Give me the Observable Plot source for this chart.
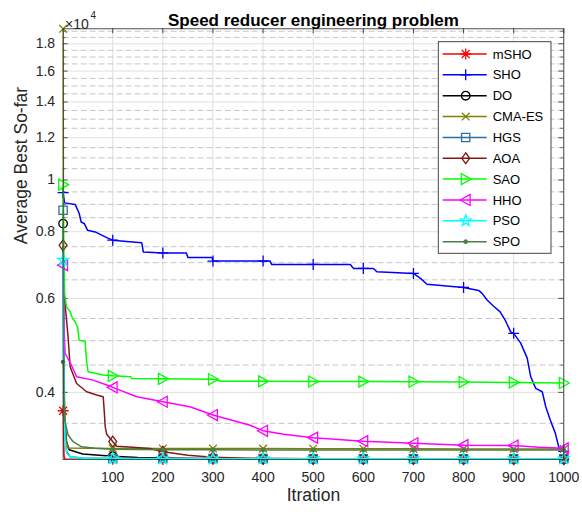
<!DOCTYPE html>
<html><head><meta charset="utf-8">
<script src="https://cdn.jsdelivr.net/npm/d3@7"></script>
<script src="https://cdn.jsdelivr.net/npm/@observablehq/plot@0.6"></script>
<style>
html,body{margin:0;padding:0;background:#fff;}
#chart{width:582px;height:516px;}
</style></head>
<body><div id="chart"></div>
<script>
// ---------- data ----------
const titleText = "Speed reducer engineering problem";
const xLabel = "Itration";
const yLabel = "Average Best So-far";
const names  = ["mSHO","SHO","DO","CMA-ES","HGS","AOA","SAO","HHO","PSO","SPO"];
const colors = ["#ff0000","#0000ff","#000000","#808000","#2a6f9e","#801a1a","#00ff00","#ff00ff","#00ffff","#4a7f4a"];
const symbolNames = ["asterisk","plus","circle","times","square","diamond","right","left","star","dot"];
const xTicks = [100,200,300,400,500,600,700,800,900,1000];
const yMajor = [4000,6000,8000,10000,12000,14000,16000,18000];
const yMinor = [3500,4500,5000,5500,6500,7000,7500,8500,9000,9500,10500,11000,11500,12500,13000,13500,14500,15000,15500,16500,17000,17500,18500,19000];
const markerIters = [1,100,200,300,400,500,600,700,800,900,1000];

const mSHO = [[1,3695],[2,3250],[3,3030],[5,3000],[10,2997],[100,2996],[200,2995.5],[300,2995],[400,2994.9],[500,2994.8],[600,2994.7],[700,2994.6],[800,2994.5],[900,2994.5],[1000,2994.5]];
const SHO = [[1,9470],[4,9060],[25,9000],[33,8664],[37,8343],[43,8290],[50,8049],[65,7993],[88,7797],[100,7713],[128,7670],[158,7625],[161,7333],[200,7300],[247,7300],[250,7160],[298,7160],[300,7047],[400,7047],[414,7047],[417,6946],[500,6946],[574,6946],[578,6873],[581,6827],[600,6827],[620,6827],[627,6729],[700,6683],[714,6541],[727,6378],[800,6290],[830,6210],[837,6130],[847,5957],[860,5801],[873,5661],[883,5465],[894,5193],[900,5160],[914,4947],[927,4637],[934,4278],[944,4069],[957,4010],[964,3759],[973,3550],[983,3355],[990,3160],[1000,3100]];
const DO = [[1,8284],[2,4800],[4,3550],[8,3233],[13,3122],[40,3066],[100,3036],[150,3020],[200,3012],[300,3005],[400,3003],[500,3002],[600,3001],[700,3000],[800,3000],[900,3000],[1000,3000]];
const CMAES = [[1,19200],[2,6000],[4,3600],[7,3250],[11,3145],[100,3141],[200,3140],[300,3139],[400,3138],[500,3137],[600,3136],[700,3135],[800,3134],[900,3133],[1000,3132]];
const HGS = [[1,8778],[2,5200],[3,3900],[5,3300],[8,3100],[15,3030],[40,3012],[100,3008],[200,3007],[300,3006],[400,3006],[500,3005],[600,3005],[700,3005],[800,3005],[900,3005],[1000,3005]];
const AOA = [[1,7545],[3,6200],[5,5850],[11,5070],[15,4467],[28,4156],[48,4010],[68,3955],[81,3925],[83,3700],[85,3450],[88,3338],[100,3235],[108,3171],[140,3155],[175,3138],[200,3095],[250,3050],[300,3022],[400,3006],[500,3003],[600,3002],[700,3001],[800,3000],[900,3000],[1000,3000]];
const SAO = [[1,9800],[2,7500],[4,6100],[8,5785],[15,5661],[20,5500],[25,5424],[30,5300],[33,5011],[45,4980],[48,4564],[51,4372],[81,4310],[100,4295],[136,4278],[138,4245],[200,4240],[300,4232],[307,4230],[314,4197],[400,4195],[500,4192],[600,4190],[700,4188],[800,4182],[900,4175],[1000,4165]];
const HHO = [[1,6925],[3,5200],[5,4730],[15,4550],[28,4278],[61,4217],[88,4128],[100,4087],[148,3925],[200,3841],[254,3759],[300,3627],[374,3470],[400,3389],[441,3338],[500,3290],[600,3240],[700,3211],[800,3185],[900,3180],[950,3155],[1000,3142]];
const PSO = [[1,7077],[2,4600],[3,3700],[5,3250],[8,3080],[15,3030],[40,3010],[100,3006],[200,3005],[300,3005],[400,3004],[500,3004],[600,3004],[700,3004],[800,3004],[900,3004],[1000,3004]];
const SPO = [[1,4560],[2,4100],[4,3550],[11,3328],[21,3233],[38,3162],[65,3142],[100,3130],[200,3123],[300,3121],[400,3120],[500,3119],[600,3119],[700,3118],[800,3118],[900,3118],[1000,3118]];
const seriesList = [mSHO,SHO,DO,CMAES,HGS,AOA,SAO,HHO,PSO,SPO];

// ---------- layout ----------
const W = 582, H = 516;
const mL = 62.6, mR = 18.7, mT = 28.3, mB = 57;
const pw = W - mL - mR, ph = H - mT - mB;
const FONT = "'Liberation Sans', Arial, Helvetica, sans-serif";

// ---------- symbols ----------
function rr(s){ return Math.sqrt(s/Math.PI); }
const symbols = {
  asterisk:{draw(c,s){const r=rr(s),d=r*0.72;c.moveTo(-r,0);c.lineTo(r,0);c.moveTo(0,-r);c.lineTo(0,r);c.moveTo(-d,-d);c.lineTo(d,d);c.moveTo(-d,d);c.lineTo(d,-d);}},
  plus:{draw(c,s){const r=rr(s);c.moveTo(-r,0);c.lineTo(r,0);c.moveTo(0,-r);c.lineTo(0,r);}},
  circle:{draw(c,s){const r=rr(s)*0.78;c.moveTo(r,0);c.arc(0,0,r,0,2*Math.PI);c.closePath();}},
  times:{draw(c,s){const r=rr(s)*0.7;c.moveTo(-r,-r);c.lineTo(r,r);c.moveTo(-r,r);c.lineTo(r,-r);}},
  square:{draw(c,s){const r=rr(s)*0.75;c.rect(-r,-r,2*r,2*r);}},
  diamond:{draw(c,s){const r=rr(s);c.moveTo(0,-r);c.lineTo(r*0.72,0);c.lineTo(0,r);c.lineTo(-r*0.72,0);c.closePath();}},
  right:{draw(c,s){const r=rr(s);c.moveTo(r,0);c.lineTo(-r*0.8,-r);c.lineTo(-r*0.8,r);c.closePath();}},
  left:{draw(c,s){const r=rr(s);c.moveTo(-r,0);c.lineTo(r*0.8,-r);c.lineTo(r*0.8,r);c.closePath();}},
  star:{draw(c,s){const R=rr(s)*1.05,ri=R*0.4;for(let i=0;i<10;i++){const a=-Math.PI/2+i*Math.PI/5,q=i%2?ri:R;const px=q*Math.cos(a),py=q*Math.sin(a);i?c.lineTo(px,py):c.moveTo(px,py);}c.closePath();}},
  dot:{draw(c,s){const r=rr(s)*0.3;c.moveTo(r,0);c.arc(0,0,r,0,2*Math.PI);c.closePath();}}
};
const MR = 5.5;

// ---------- marks ----------
const fmtY = d => String(+(d/1e4).toFixed(2));
const marks = [
  Plot.ruleX(xTicks, {x: d=>d, stroke:"#dfdfdf", strokeWidth:1}),
  Plot.ruleY(yMajor, {y: d=>d, stroke:"#dfdfdf", strokeWidth:1}),
  Plot.ruleY(yMinor, {y: d=>d, stroke:"#c6c6c6", strokeWidth:1, strokeDasharray:"6,3"}),
  // inward ticks
  Plot.tickX(xTicks, {x: d=>d, insetTop: ph-5, stroke:"#262626", strokeWidth:0.8}),
  Plot.tickX(xTicks, {x: d=>d, insetBottom: ph-5, stroke:"#262626", strokeWidth:0.8}),
  Plot.tickY(yMajor, {y: d=>d, insetRight: pw-5, stroke:"#262626", strokeWidth:0.8}),
  Plot.tickY(yMajor, {y: d=>d, insetLeft: pw-5, stroke:"#262626", strokeWidth:0.8}),
  Plot.tickY(yMinor, {y: d=>d, insetRight: pw-3, stroke:"#262626", strokeWidth:0.6}),
  Plot.tickY(yMinor, {y: d=>d, insetLeft: pw-3, stroke:"#262626", strokeWidth:0.6}),
  Plot.axisX({ticks: xTicks, tickSize: 0, tickPadding: 13, fontSize: 14, tickFormat: d=>String(d), label: null}),
  Plot.axisY({ticks: yMajor, tickSize: 0, tickPadding: 8, fontSize: 14, tickFormat: fmtY, label: null}),
];
seriesList.forEach((s, i) => {
  marks.push(Plot.line(s, {x: d=>d[0], y: d=>d[1], stroke: colors[i], strokeWidth: 1.5, clip: true}));
  marks.push(Plot.dot(s.filter(d => markerIters.includes(d[0])), {
    x: d=>d[0], y: d=>d[1], r: MR, symbol: symbols[symbolNames[i]],
    stroke: colors[i], strokeWidth: 1.3, fill: symbolNames[i]==="dot" ? colors[i] : "none"
  }));
});
marks.push(
  Plot.frame({stroke:"#262626", strokeWidth: 0.8}),
  Plot.text([titleText], {frameAnchor:"top", dy:-14.5, fontSize:17, fontWeight:"bold", fill:"#000"}),
  Plot.text(["×10"], {frameAnchor:"top-left", dx:2, dy:-9.5, textAnchor:"start", fontSize:14, fill:"#262626"}),
  Plot.text(["4"], {frameAnchor:"top-left", dx:27.5, dy:-16.5, textAnchor:"start", fontSize:10, fill:"#262626"}),
  Plot.text([yLabel], {frameAnchor:"left", dx:-42, rotate:-90, fontSize:17.5, fill:"#262626"}),
  Plot.text([xLabel], {frameAnchor:"bottom", dy:41, fontSize:17.5, fill:"#262626"})
);

const chart = Plot.plot({
  width: W, height: H,
  marginLeft: mL, marginRight: mR, marginTop: mT, marginBottom: mB,
  style: {fontFamily: FONT, fontSize: "14px", color: "#262626", background: "#fff", overflow: "visible"},
  x: {domain: [1, 1000]},
  y: {type: "log", domain: [2994, 19200]},
  marks
});
document.getElementById("chart").appendChild(chart);

// ---------- legend ----------
const svg = d3.select(chart);
const lg = svg.append("g").attr("font-family", FONT).attr("font-size", 13).attr("text-anchor", "start");
const lx0 = 438.3, ly0 = 41.7, lx1 = 551, ly1 = 253.3;
lg.append("rect").attr("x", lx0).attr("y", ly0).attr("width", lx1-lx0).attr("height", ly1-ly0)
  .attr("fill", "#fff").attr("stroke", "#333").attr("stroke-width", 0.9);
names.forEach((n, i) => {
  const y = 54 + i*20.85;
  lg.append("line").attr("x1", 442.7).attr("x2", 486.7).attr("y1", y).attr("y2", y)
    .attr("stroke", colors[i]).attr("stroke-width", 1.5);
  const p = d3.path();
  symbols[symbolNames[i]].draw(p, Math.PI*MR*MR);
  lg.append("path").attr("d", p.toString()).attr("transform", `translate(465.7,${y})`)
    .attr("stroke", colors[i]).attr("stroke-width", 1.3)
    .attr("fill", symbolNames[i]==="dot" ? colors[i] : "none");
  lg.append("text").attr("x", 492.7).attr("y", y).attr("dy", "0.35em")
    .attr("text-anchor", "start").attr("fill", "#000").text(n);
});
</script>
</body></html>
